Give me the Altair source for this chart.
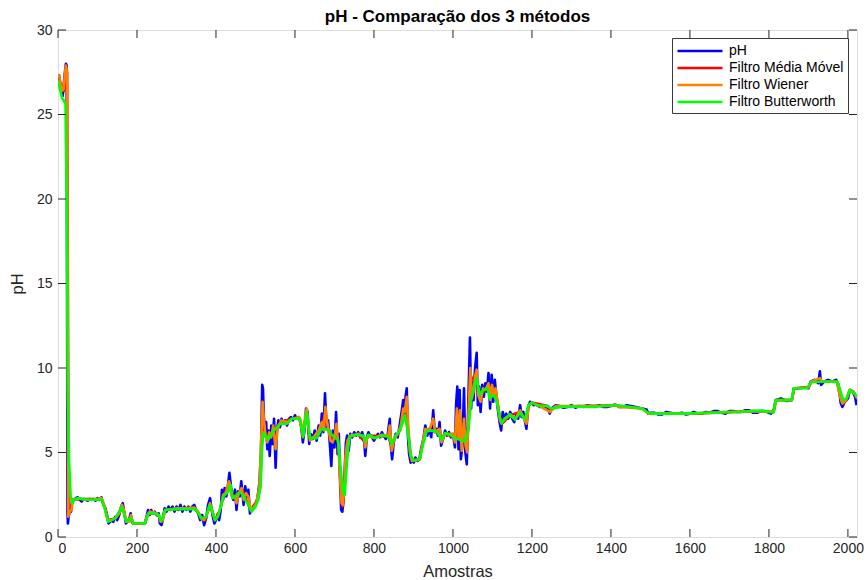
import altair as alt
import pandas as pd

# ---------------- data ----------------
series_names = ["pH", "Filtro Média Móvel", "Filtro Wiener", "Filtro Butterworth"]
series_colors = ["#0000FF", "#FF0000", "#FF8000", "#00FF00"]

x_ticks = [0, 200, 400, 600, 800, 1000, 1200, 1400, 1600, 1800, 2000]
y_ticks = [0, 5, 10, 15, 20, 25, 30]

ph_x = [0, 3, 6, 9, 12, 15, 18, 20, 22, 24, 25, 27, 30, 33, 36, 40, 45, 50, 55, 60, 65, 70, 75, 80, 85, 90, 95, 100, 105, 110,
        115, 120, 125, 128, 132, 136, 140, 145, 150, 155, 160, 164, 168, 172, 176, 180, 184, 187, 190, 200, 210, 220, 224, 228,
        232, 236, 240, 245, 250, 255, 258, 262, 266, 270, 275, 280, 285, 290, 295, 300, 305, 310, 315, 320, 325, 330, 335, 340,
        345, 350, 355, 360, 365, 370, 375, 380, 385, 388, 392, 396, 400, 405, 408, 412, 415, 418, 422, 426, 430, 434, 437, 440,
        444, 448, 452, 456, 460, 464, 467, 470, 474, 478, 482, 486, 490, 495, 500, 505, 510, 514, 517, 519, 521, 524, 527, 530,
        533, 536, 540, 543, 547, 551, 554, 558, 562, 566, 570, 575, 580, 585, 590, 595, 600, 605, 610, 615, 620, 624, 628, 632,
        636, 640, 645, 650, 655, 660, 664, 668, 672, 676, 680, 684, 688, 692, 696, 700, 704, 708, 711, 714, 717, 720, 723, 726,
        729, 732, 736, 740, 745, 750, 755, 760, 765, 770, 775, 778, 782, 786, 790, 795, 800, 805, 810, 815, 820, 825, 830, 835,
        840, 843, 846, 850, 855, 860, 865, 870, 874, 877, 880, 883, 886, 889, 893, 897, 901, 905, 910, 915, 920, 925, 930, 935,
        940, 945, 950, 954, 958, 962, 966, 970, 975, 980, 985, 990, 995, 1000, 1005, 1008, 1011, 1014, 1017, 1020, 1024, 1028,
        1031, 1035, 1039, 1043, 1046, 1049, 1052, 1056, 1060, 1063, 1066, 1070, 1074, 1078, 1082, 1086, 1090, 1094, 1098, 1102,
        1106, 1110, 1114, 1118, 1122, 1126, 1130, 1135, 1140, 1145, 1150, 1155, 1160, 1165, 1170, 1174, 1178, 1182, 1186, 1190,
        1195, 1200, 1205, 1210, 1220, 1230, 1240, 1245, 1250, 1260, 1270, 1280, 1290, 1300, 1310, 1320, 1330, 1340, 1350, 1360,
        1370, 1380, 1390, 1400, 1410, 1420, 1430, 1440, 1450, 1460, 1470, 1480, 1490, 1495, 1500, 1510, 1520, 1530, 1540, 1550,
        1560, 1570, 1580, 1590, 1600, 1610, 1620, 1630, 1640, 1650, 1660, 1670, 1680, 1690, 1700, 1710, 1720, 1730, 1740, 1750,
        1760, 1770, 1780, 1790, 1800, 1805, 1812, 1817, 1830, 1845, 1858, 1863, 1875, 1890, 1900, 1906, 1915, 1925, 1929, 1932,
        1940, 1950, 1960, 1970, 1976, 1982, 1986, 1992, 2000, 2005, 2012, 2018, 2022]
ph_y = [26.9, 27.3, 26.8, 26.4, 26.1, 26.9, 27.6, 28.0, 27.9, 1.5, 0.8, 1.2, 1.6, 1.5, 2.2, 2.2, 2.3, 2.35, 2.2, 2.1, 2.25, 2.2, 2.15, 2.25, 2.2, 2.25, 2.15, 2.3, 2.2, 2.35,
        1.9, 1.7, 1.2, 0.8, 0.9, 1.0, 0.9, 1.2, 1.0, 1.3, 1.8, 2.0, 1.4, 0.8, 0.9, 1.0, 1.4, 0.9, 0.8, 0.8, 0.8, 0.8, 1.2, 1.6,
        1.3, 1.6, 1.4, 1.5, 1.3, 1.4, 0.8, 0.7, 1.1, 1.7, 1.5, 1.8, 1.6, 1.8, 1.5, 1.8, 1.6, 1.9, 1.5, 1.8, 1.6, 1.8, 1.5, 1.8,
        1.9, 1.6, 1.4, 1.0, 1.3, 0.7, 1.1, 1.9, 2.3, 1.8, 1.2, 0.8, 1.0, 1.4, 1.0, 1.6, 2.8, 2.2, 2.9, 2.4, 3.0, 3.8, 3.2, 2.5,
        2.2, 2.8, 1.6, 2.7, 2.4, 3.3, 2.6, 1.9, 3.0, 2.4, 2.8, 1.4, 1.6, 1.8, 1.9, 2.3, 3.2, 5.0, 9.0, 8.8, 7.2, 6.0, 6.8, 5.2,
        6.3, 4.8, 6.6, 5.5, 7.0, 4.1, 6.2, 6.9, 6.5, 7.0, 6.7, 6.9, 6.6, 7.0, 7.1, 6.9, 7.2, 7.0, 7.1, 6.7, 5.6, 6.3, 7.6, 7.4,
        5.5, 6.1, 5.8, 6.3, 5.7, 6.6, 6.0, 7.3, 6.2, 8.5, 6.5, 6.9, 5.6, 4.2, 6.3, 5.3, 7.4, 4.9, 6.1, 3.5, 1.6, 1.5, 2.2, 4.0,
        5.6, 6.0, 5.1, 6.1, 5.9, 6.2, 6.0, 6.2, 5.9, 6.2, 5.8, 4.8, 5.9, 6.2, 6.0, 5.9, 5.7, 5.9, 6.1, 5.9, 6.2, 6.0, 5.8, 6.1,
        7.0, 5.3, 4.6, 5.6, 6.1, 5.9, 6.6, 7.4, 8.1, 7.3, 8.3, 8.8, 6.0, 4.9, 4.4, 4.5, 4.4, 4.7, 4.5, 4.6, 5.3, 5.8, 6.6, 6.0,
        6.4, 5.9, 7.5, 6.2, 6.4, 6.0, 6.8, 5.4, 5.8, 6.3, 6.0, 6.2, 5.9, 6.1, 5.3, 7.9, 8.9, 5.2, 8.7, 4.6, 5.5, 8.8,
        5.1, 4.3, 8.0, 11.8, 7.6, 9.2, 8.1, 10.0, 10.9, 7.8, 8.9, 7.4, 9.0, 8.3, 9.1, 8.6, 9.7, 7.6, 9.6, 8.0,
        9.3, 8.3, 7.5, 6.8, 6.3, 7.4, 7.0, 7.3, 7.0, 7.4, 7.0, 6.8, 7.2, 7.0, 7.8, 7.1, 7.4, 6.9, 6.4, 7.6,
        8.0, 7.9, 7.8, 7.85, 7.7, 7.75, 7.65, 7.3, 7.6, 7.8, 7.75, 7.65, 7.7, 7.8, 7.65, 7.75, 7.7, 7.8, 7.75, 7.7,
        7.8, 7.7, 7.7, 7.75, 7.85, 7.7, 7.7, 7.8, 7.75, 7.7, 7.65, 7.6, 7.55, 7.3, 7.35, 7.35, 7.25, 7.25, 7.4, 7.35,
        7.3, 7.3, 7.35, 7.25, 7.3, 7.4, 7.3, 7.3, 7.4, 7.35, 7.45, 7.45, 7.35, 7.3, 7.45, 7.45, 7.4, 7.4, 7.5, 7.5,
        7.35, 7.35, 7.45, 7.45, 7.35, 7.3, 7.5, 8.1, 8.2, 8.05, 8.1, 8.8, 8.8, 8.85, 8.8, 9.2, 9.3, 9.1, 9.8, 9.0,
        9.2, 9.3, 9.2, 9.3, 9.0, 7.9, 7.7, 8.0, 8.2, 8.7, 8.6, 8.3, 7.8]

mm_x = [0, 5, 10, 15, 20, 23, 25, 27, 32, 37, 60, 110, 118, 126, 145, 155, 162, 168, 173, 185, 190, 220, 227, 245, 257, 263,
        271, 345, 356, 365, 372, 385, 398, 410, 420, 435, 442, 457, 466, 474, 488, 505, 512, 516, 519, 524, 532, 545, 560, 590,
        612, 620, 629, 637, 655, 668, 676, 684, 695, 705, 711, 716, 721, 726, 731, 738, 760, 777, 786, 836, 844, 853, 866, 876,
        882, 887, 893, 900, 916, 924, 933, 959, 970, 980, 1005, 1012, 1020, 1030, 1036, 1041, 1046, 1058, 1066, 1078, 1090,
        1100, 1110, 1118, 1124, 1145, 1170, 1185, 1192, 1200, 1240, 1248, 1260, 1410, 1480, 1495, 1600, 1760, 1812, 1818, 1858,
        1864, 1900, 1908, 1972, 1980, 1987, 1996, 2005, 2014, 2023]
mm_y = [27.0, 26.9, 26.6, 26.4, 27.0, 27.5, 15.0, 1.3, 1.6, 2.2, 2.25, 2.25, 1.8, 1.0, 1.1, 1.4, 1.9, 1.4, 0.9, 1.2, 0.8, 0.8, 1.3, 1.45, 1.2, 0.9,
        1.6, 1.7, 1.4, 1.1, 1.0, 1.9, 1.0, 1.6, 2.5, 3.2, 2.4, 2.6, 2.8, 2.3, 1.6, 2.2, 3.0, 5.5, 7.6, 6.2, 5.7, 6.3, 6.7, 7.0,
        7.0, 6.0, 7.4, 5.9, 5.9, 6.6, 7.3, 6.5, 5.8, 6.2, 5.3, 2.8, 1.8, 3.0, 5.0, 5.9, 6.1, 5.6, 6.0, 5.95, 5.4, 5.9, 6.3, 7.4,
        7.8, 6.2, 4.8, 4.5, 4.6, 5.6, 6.3, 6.3, 5.8, 6.1, 5.9, 6.8, 5.6, 5.8, 5.2, 7.8, 9.3, 9.6, 8.6, 8.6, 9.0,
        8.6, 8.4, 7.1, 6.7, 7.2, 7.4, 6.8, 7.8, 7.95, 7.75, 7.5, 7.7, 7.8, 7.6, 7.3, 7.3, 7.45, 7.4, 8.1, 8.1,
        8.8, 8.85, 9.2, 9.2, 8.4, 7.9, 8.1, 8.7, 8.6, 8.25]

wi_x = [0, 3, 6, 10, 14, 17, 20, 23, 25, 26, 30, 34, 38, 50, 70, 90, 110, 118, 126, 135, 145, 155, 162, 168, 172, 180, 185,
        190, 220, 226, 232, 245, 255, 260, 265, 272, 300, 320, 345, 355, 362, 370, 378, 385, 392, 398, 405, 412, 418, 425, 433,
        440, 448, 452, 458, 465, 470, 476, 482, 487, 495, 503, 510, 514, 518, 521, 525, 530, 535, 540, 545, 551, 556, 565, 580,
        595, 610, 616, 620, 626, 630, 634, 638, 650, 660, 668, 673, 677, 682, 690, 695, 700, 705, 710, 714, 718, 721, 724, 728,
        733, 740, 760, 775, 778, 784, 800, 820, 836, 840, 845, 850, 860, 868, 874, 878, 883, 887, 891, 896, 910, 916, 922, 930,
        940, 950, 955, 966, 971, 980, 1000, 1005, 1010, 1014, 1018, 1022, 1028, 1032, 1036, 1040, 1044, 1048, 1052, 1056,
        1060, 1064, 1070, 1076, 1082, 1090, 1095, 1099, 1104, 1108, 1114, 1119, 1123, 1130, 1145, 1157, 1170, 1182, 1186,
        1192, 1200, 1215, 1245, 1250, 1260, 1300, 1400, 1410, 1420, 1480, 1495, 1600, 1700, 1760, 1812, 1817, 1858, 1864,
        1900, 1907, 1929, 1935, 1972, 1980, 1986, 1995, 2004, 2014, 2023]
wi_y = [27.3, 27.3, 26.8, 26.4, 26.5, 27.3, 27.9, 27.6, 8.0, 1.2, 1.5, 1.6, 2.2, 2.3, 2.2, 2.2, 2.3, 1.8, 1.0, 1.0, 1.1, 1.4, 1.9, 1.5, 0.9, 0.9, 1.3,
        0.8, 0.8, 1.3, 1.5, 1.45, 1.3, 0.9, 1.0, 1.6, 1.7, 1.7, 1.75, 1.5, 1.1, 1.0, 1.4, 2.0, 1.4, 1.0, 1.3, 1.8, 2.5, 2.6, 3.3,
        2.4, 2.4, 2.0, 2.6, 2.9, 2.2, 2.6, 2.4, 1.7, 1.7, 2.1, 3.0, 5.5, 8.0, 7.0, 6.1, 5.6, 6.2, 5.9, 6.6, 5.2, 6.4, 6.9, 6.8,
        7.0, 7.1, 6.5, 5.9, 7.2, 7.6, 6.6, 5.7, 6.0, 6.3, 6.8, 6.3, 7.7, 6.7, 5.7, 5.6, 5.9, 6.7, 5.4, 3.6, 2.0, 1.9, 2.6, 4.8,
        5.7, 6.0, 6.1, 5.9, 5.3, 6.0, 5.85, 6.05, 6.0, 6.6, 5.1, 5.7, 6.1, 6.6, 7.6, 7.4, 8.3, 6.5, 5.0, 4.5, 4.55, 4.6, 5.4, 6.4,
        6.3, 7.0, 6.2, 6.4, 5.6, 6.1, 6.1, 5.6, 7.6, 5.8, 7.5, 5.1, 7.0, 5.4, 5.0, 7.6, 10.0, 8.2, 8.6, 9.5,
        9.9, 8.4, 8.0, 8.8, 8.7, 9.1, 8.1, 9.0, 8.4, 8.8, 7.8, 6.9, 6.7, 7.0, 7.25, 6.95, 7.5, 6.9, 6.7,
        7.8, 7.95, 7.8, 7.4, 7.5, 7.75, 7.75, 7.75, 7.85, 7.7, 7.6, 7.3, 7.3, 7.4, 7.45, 7.4, 8.1, 8.1, 8.8,
        8.85, 9.2, 9.4, 9.2, 9.2, 8.3, 7.9, 8.1, 8.7, 8.6, 8.2]

bw_x = [0, 5, 10, 15, 19, 22, 25, 28, 32, 36, 40, 50, 70, 90, 111, 118, 127, 144, 155, 161, 168, 174, 182, 186, 190, 220, 229,
        245, 255, 262, 271, 305, 347, 356, 364, 375, 384, 390, 397, 405, 412, 419, 431, 437, 442, 450, 457, 465, 474, 482, 490,
        500, 507, 513, 516, 520, 524, 532, 545, 562, 579, 592, 613, 621, 630, 638, 655, 667, 684, 697, 709, 716, 722, 726, 731,
        735, 739, 756, 773, 777, 786, 803, 820, 836, 845, 853, 866, 878, 885, 894, 900, 916, 925, 933, 946, 959, 971, 980, 992,
        1005, 1018, 1030, 1039, 1047, 1060, 1068, 1077, 1087, 1093, 1102, 1110, 1119, 1123, 1131, 1144, 1157, 1170, 1182, 1191,
        1199, 1212, 1237, 1250, 1271, 1300, 1350, 1410, 1440, 1478, 1494, 1500, 1575, 1658, 1743, 1777, 1811, 1818, 1857, 1863,
        1895, 1908, 1971, 1975, 1988, 1997, 2005, 2018, 2023]
bw_y = [27.0, 26.5, 26.0, 25.8, 25.6, 20.0, 8.9, 4.5, 2.4, 2.0, 2.15, 2.3, 2.2, 2.2, 2.2, 1.7, 0.9, 1.1, 1.5, 1.8, 1.3, 0.9, 1.1, 1.1, 0.8, 0.8, 1.4,
        1.4, 1.3, 0.95, 1.6, 1.65, 1.65, 1.4, 1.1, 1.2, 1.9, 1.6, 1.0, 1.2, 1.8, 2.4, 2.7, 3.1, 2.3, 2.4, 2.6, 2.6, 2.2, 1.9, 1.5,
        1.8, 2.2, 3.0, 5.0, 6.2, 6.0, 5.75, 6.25, 6.7, 6.7, 7.0, 7.0, 5.95, 7.4, 5.85, 5.85, 6.4, 6.35, 5.95, 5.75, 4.0, 2.6, 2.5, 4.2,
        5.35, 5.95, 6.05, 6.0, 5.65, 6.05, 5.85, 6.0, 5.95, 5.5, 5.95, 6.3, 7.2, 6.3, 4.75, 4.55, 4.6, 5.55, 6.25, 6.3, 6.25, 5.75, 6.15, 6.05,
        5.85, 5.75, 5.65, 6.35, 8.3, 9.4, 8.4, 8.7, 8.8, 8.2, 8.4, 8.1, 7.1, 6.75, 6.95, 7.25, 6.95, 7.35, 6.95, 7.8,
        7.95, 7.8, 7.75, 7.6, 7.7, 7.72, 7.7, 7.8, 7.72, 7.6, 7.35, 7.3, 7.3, 7.35, 7.43, 7.48, 7.37, 8.1, 8.1, 8.8,
        8.8, 9.17, 9.2, 9.1, 8.1, 8.2, 8.7, 8.45, 8.3]

# ---------------- long table ----------------
frames = []
for name, xs, ys in zip(series_names, [ph_x, mm_x, wi_x, bw_x], [ph_y, mm_y, wi_y, bw_y]):
    frames.append(pd.DataFrame({"amostra": xs, "valor": ys, "serie": name}))
df = pd.concat(frames, ignore_index=True)

W, H = 799, 507
AX = "#262626"
FONT = "Liberation Sans"

xscale = alt.Scale(domain=[0, 2023], nice=False, zero=False)
yscale = alt.Scale(domain=[0, 30], nice=False, zero=False)

color = alt.Color(
    "serie:N",
    scale=alt.Scale(domain=series_names, range=series_colors),
    sort=series_names,
    legend=alt.Legend(
        title=None, orient="none", legendX=614, legendY=8,
        symbolType="M-3,0H3", symbolSize=225, symbolStrokeWidth=2.5,
        symbolOffset=15, labelOffset=20,
        labelFontSize=14, labelFont=FONT, labelColor="#000000",
        strokeColor="#3a3a3a", fillColor="#FFFFFF", padding=4,
        rowPadding=1,
    ),
)

xaxis = alt.Axis(values=x_ticks, ticks=False, domain=False, grid=False, format="d",
                 labelFontSize=14, labelFont=FONT, labelColor=AX, labelPadding=4,
                 title="Amostras", titleFontSize=16.5, titleFont=FONT, titleColor=AX,
                 titleFontWeight="normal", titlePadding=8)
yaxis = alt.Axis(values=y_ticks, ticks=False, domain=False, grid=False,
                 labelFontSize=14, labelFont=FONT, labelColor=AX, labelPadding=6,
                 title="pH", titleFontSize=16.5, titleFont=FONT, titleColor=AX,
                 titleFontWeight="normal", titlePadding=11)

base = alt.Chart(df)
layers = []
for name in series_names:
    layers.append(
        base.transform_filter(alt.datum.serie == name)
        .mark_line(strokeWidth=2.6, clip=True, strokeJoin="round")
        .encode(
            x=alt.X("amostra:Q", scale=xscale, axis=xaxis),
            y=alt.Y("valor:Q", scale=yscale, axis=yaxis),
            color=color,
            order=alt.Order("amostra:Q"),
        )
    )

# inward tick marks (MATLAB style) on all four sides
xt = pd.DataFrame({"amostra": x_ticks})
yt = pd.DataFrame({"valor": y_ticks})
tick_style = dict(color=AX, strokeWidth=1)
xb = alt.Chart(xt).mark_rule(**tick_style).encode(
    x=alt.X("amostra:Q", scale=xscale, axis=xaxis), y=alt.value(H), y2=alt.value(H - 8))
xtop = alt.Chart(xt).mark_rule(**tick_style).encode(
    x=alt.X("amostra:Q", scale=xscale, axis=xaxis), y=alt.value(0), y2=alt.value(8))
yl = alt.Chart(yt).mark_rule(**tick_style).encode(
    y=alt.Y("valor:Q", scale=yscale, axis=yaxis), x=alt.value(0), x2=alt.value(8))
yr = alt.Chart(yt).mark_rule(**tick_style).encode(
    y=alt.Y("valor:Q", scale=yscale, axis=yaxis), x=alt.value(W), x2=alt.value(W - 8))

chart = alt.layer(*layers, xb, xtop, yl, yr).properties(
    width=W, height=H,
    title=alt.Title("pH - Comparação dos 3 métodos", fontSize=17, font=FONT,
                    fontWeight="bold", color="#000000", anchor="middle",
                    frame="group", offset=-3),
    autosize=alt.AutoSizeParams(type="none"),
    padding={"left": 58, "top": 30, "right": 10, "bottom": 43},
).configure_view(
    stroke=AX, strokeWidth=1, fill="#FFFFFF"
).configure(background="#FFFFFF")

chart.save("out.html", embed_options={"renderer": "svg", "actions": False})
